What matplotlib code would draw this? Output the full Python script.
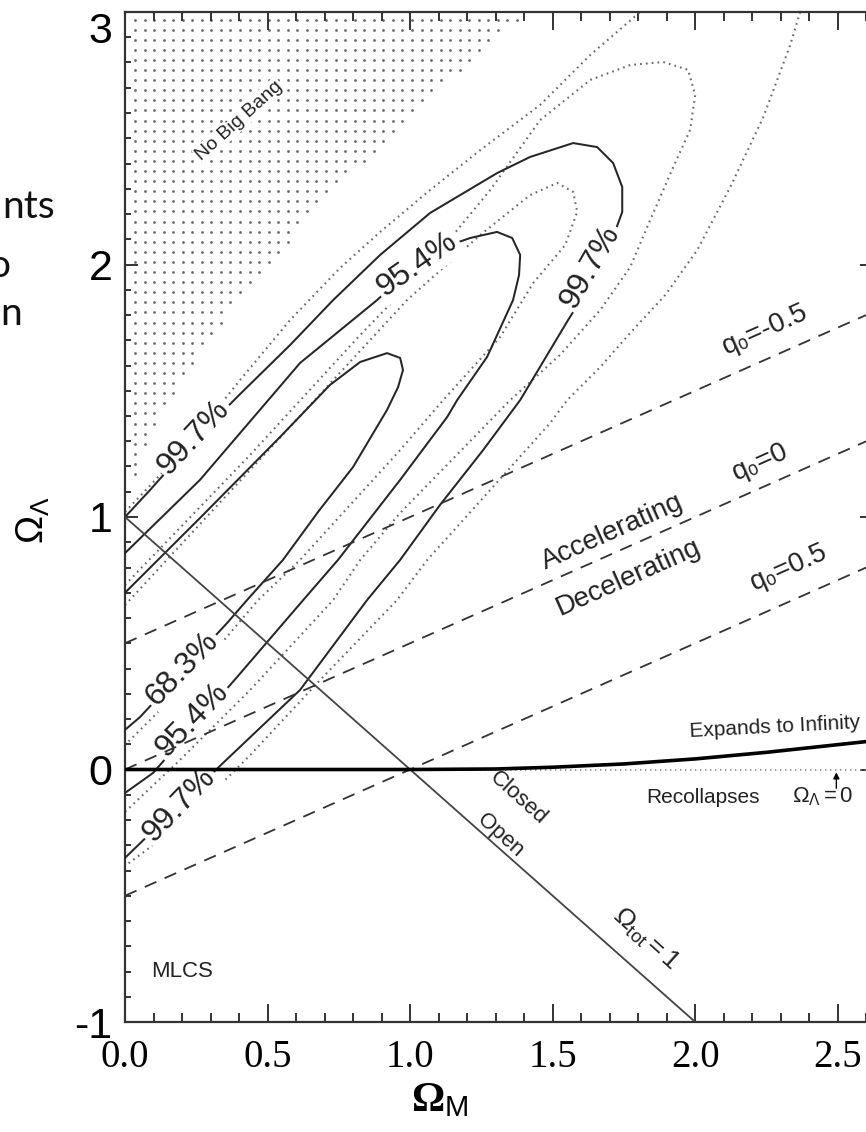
import numpy as np
import matplotlib.pyplot as plt
from matplotlib.ticker import MultipleLocator, FormatStrFormatter

plt.rcParams['font.family'] = ['Liberation Sans', 'DejaVu Sans']
plt.rcParams['mathtext.fontset'] = 'custom'
plt.rcParams['mathtext.rm'] = 'Liberation Serif'
plt.rcParams['mathtext.bf'] = 'Liberation Serif:bold'
plt.rcParams['mathtext.sf'] = 'Liberation Sans'
plt.rcParams['mathtext.it'] = 'Liberation Serif:italic'
plt.rcParams['axes.unicode_minus'] = False

# solid contours (MLCS)
s683_x = [0.0, 0.263, 0.544, 0.719, 0.825, 0.919, 0.965, 0.975, 0.958, 0.919, 0.80, 0.677, 0.554, 0.428, 0.358, 0.053, 0.0]
s683_y = [0.70, 0.996, 1.317, 1.523, 1.614, 1.649, 1.630, 1.582, 1.515, 1.424, 1.198, 1.020, 0.830, 0.671, 0.580, 0.208, 0.157]
s954_x = [0.0, 0.263, 0.614, 0.884, 1.070, 1.211, 1.305, 1.358, 1.386, 1.382, 1.361, 1.270, 1.165, 1.130, 0.965, 0.747, 0.625, 0.393, 0.098, 0.0]
s954_y = [0.857, 1.147, 1.610, 1.859, 2.050, 2.105, 2.129, 2.105, 2.038, 1.958, 1.859, 1.634, 1.463, 1.396, 1.147, 0.830, 0.671, 0.366, -0.014, -0.093]
s997_x = [0.0, 0.088, 0.228, 0.393, 0.579, 0.730, 0.895, 1.070, 1.305, 1.421, 1.572, 1.656, 1.712, 1.744, 1.744,
          1.695, 1.632, 1.554, 1.386, 1.256, 1.105, 0.965, 0.849, 0.614, 0.344, 0.0]
s997_y = [1.0, 1.107, 1.285, 1.475, 1.681, 1.859, 2.038, 2.204, 2.362, 2.426, 2.481, 2.465, 2.402, 2.307, 2.208,
          2.057, 1.919, 1.780, 1.463, 1.265, 1.048, 0.830, 0.671, 0.315, 0.026, -0.35]

# dotted contours (template fitting)
d683_x = [0.0, 0.263, 0.614, 0.989, 1.246, 1.421, 1.516, 1.572, 1.586, 1.544, 1.432, 1.316, 1.116, 0.965, 0.614, 0.467, 0.228, 0.0]
d683_y = [0.651, 0.972, 1.400, 1.859, 2.117, 2.275, 2.323, 2.287, 2.208, 2.077, 1.927, 1.713, 1.463, 1.265, 0.830, 0.671, 0.354, 0.097]
d954_x = [0.0, 0.439, 0.825, 1.070, 1.281, 1.456, 1.632, 1.772, 1.888, 1.975, 2.0, 1.982, 1.923, 1.842, 1.772,
          1.667, 1.526, 1.351, 0.965, 0.825, 0.730, 0.439, 0.193, 0.0]
d954_y = [0.731, 1.246, 1.721, 2.006, 2.295, 2.572, 2.731, 2.790, 2.802, 2.771, 2.671, 2.533, 2.386, 2.176, 1.990,
          1.820, 1.642, 1.463, 1.016, 0.830, 0.671, 0.315, 0.038, -0.168]
d997_left_x = [0.0, 0.123, 0.263, 0.404, 0.579, 0.754, 0.895, 1.070, 1.246, 1.456, 1.632, 1.807]
d997_left_y = [1.020, 1.166, 1.345, 1.543, 1.780, 1.986, 2.129, 2.295, 2.453, 2.632, 2.830, 3.0]
d997_right_x = [2.368, 2.333, 2.239, 2.123, 2.007, 1.895, 1.772, 1.667, 1.551, 1.491, 1.281, 1.060, 0.954, 0.684, 0.439, 0.193, 0.0]
d997_right_y = [3.0, 2.869, 2.584, 2.307, 2.057, 1.879, 1.729, 1.594, 1.463, 1.372, 1.107, 0.830, 0.671, 0.354, 0.057, -0.220, -0.382]

# No Big Bang boundary
bb_x = [0.0, 0.05, 0.1, 0.2, 0.3, 0.4, 0.5, 0.7, 0.9, 1.1, 1.3, 1.42]
bb_y = [1.0, 1.22, 1.35, 1.55, 1.70, 1.86, 2.0, 2.25, 2.48, 2.69, 2.9, 3.0]

# expands / recollapses boundary
exp_x = [0.0, 1.0, 1.3, 1.5, 1.75, 2.0, 2.25, 2.62]
exp_y = [0.0, 0.0, 0.002, 0.009, 0.022, 0.042, 0.068, 0.113]

# q0 lines and flat universe line
q0_x = [0.0, 2.62]
q0_y = {'-0.5': [0.5, 1.81], '0': [0.0, 1.31], '0.5': [-0.5, 0.81]}
flat_x = [0.0, 2.0]
flat_y = [1.0, -1.0]

# contour labels
cl_text = ['99.7%', '95.4%', '99.7%', '68.3%', '95.4%', '99.7%']
cl_x = [0.239, 1.025, 1.632, 0.20, 0.235, 0.189]
cl_y = [1.317, 2.0, 1.99, 0.40, 0.196, -0.14]
cl_rot = [47, 35, 60, 46, 46, 46]

fig = plt.figure(figsize=(8.66, 11.32), dpi=100)
ax = fig.add_axes([125 / 866, 110 / 1132, 747 / 866, 1010 / 1132])
ax.set_xlim(0, 2.62)
ax.set_ylim(-1, 3)

# stipple for the No Big Bang region
gx, gy = np.meshgrid(np.arange(0.035, 1.5, 0.0335), np.arange(2.97, 0.9, -0.04))
inside = gy > np.interp(gx, bb_x, bb_y)
ax.scatter(gx[inside], gy[inside], s=4, color='#6a6a6a', linewidths=0, zorder=1)

solid = dict(color='#262626', lw=1.45, zorder=3)
for xs, ys in [(s683_x, s683_y), (s954_x, s954_y), (s997_x, s997_y)]:
    ax.plot(xs, ys, **solid)

dots = dict(color='#666666', lw=1.5, ls=(0, (0.8, 2.0)), zorder=2)
for xs, ys in [(d683_x, d683_y), (d954_x, d954_y), (d997_left_x, d997_left_y), (d997_right_x, d997_right_y)]:
    ax.plot(xs, ys, **dots)

for key in q0_y:
    ax.plot(q0_x, q0_y[key], color='#333333', lw=1.3, dashes=(7, 5), zorder=6)

ax.plot(flat_x, flat_y, color='#444444', lw=1.3, zorder=3)
ax.plot(exp_x, exp_y, color='black', lw=2.6, zorder=6, solid_capstyle='butt')
ax.plot([1.0, 2.62], [0, 0], color='#888888', lw=1.2, ls=(0, (0.8, 2.2)), zorder=2)

box = dict(boxstyle='square,pad=0.08', fc='white', ec='none')
for t, lx, ly, r in zip(cl_text, cl_x, cl_y, cl_rot):
    ax.text(lx, ly, t, rotation=r, rotation_mode='anchor', ha='center', va='center',
            fontsize=23, color='#222222', bbox=box, zorder=5)

note = dict(ha='center', va='center', rotation_mode='anchor', color='#222222')
ax.text(0.40, 2.57, 'No Big Bang', rotation=42, fontsize=14, bbox=dict(boxstyle='square,pad=0.05', fc='white', ec='none'), zorder=4, **note)
ax.text(2.246, 1.741, 'q\u2080=-0.5', rotation=24, fontsize=20, **note)
ax.text(2.228, 1.218, 'q\u2080=0', rotation=24, fontsize=20, **note)
ax.text(2.33, 0.80, 'q\u2080=0.5', rotation=24, fontsize=20, **note)
ax.text(1.709, 0.941, 'Accelerating', rotation=24, fontsize=20, **note)
ax.text(1.765, 0.762, 'Decelerating', rotation=24, fontsize=20, **note)
ax.text(2.28, 0.168, 'Expands to Infinity', rotation=3, fontsize=15, **note)
ax.text(2.028, -0.109, 'Recollapses', fontsize=15, **note)
ax.text(2.446, -0.109, r'$\mathsf{\Omega_\Lambda{=}0}$', fontsize=16, **note)
ax.annotate('', xy=(2.495, 0.0), xytext=(2.495, -0.085),
            arrowprops=dict(arrowstyle='-|>', lw=1.0, color='black', mutation_scale=9))
ax.text(1.379, -0.113, 'Closed', rotation=-42, fontsize=16, **note)
ax.text(1.316, -0.259, 'Open', rotation=-42, fontsize=16, **note)
ax.text(1.825, -0.671, r'$\mathsf{\Omega_{tot}{=}1}$', rotation=-42, fontsize=19, **note)
ax.text(0.2, -0.80, 'MLCS', fontsize=16, **note)

ax.xaxis.set_major_locator(MultipleLocator(0.5))
ax.xaxis.set_minor_locator(MultipleLocator(0.1))
ax.yaxis.set_major_locator(MultipleLocator(1))
ax.yaxis.set_minor_locator(MultipleLocator(0.1))
ax.xaxis.set_major_formatter(FormatStrFormatter('%.1f'))
ax.tick_params(which='both', direction='in', top=True, right=True, width=1.4, color='#333333')
ax.tick_params(axis='x', which='major', length=13, pad=12, labelsize=28, labelfontfamily='Liberation Serif')
ax.tick_params(axis='x', which='minor', length=6.5)
ax.tick_params(axis='y', which='major', length=9, pad=9, labelsize=31)
ax.tick_params(axis='y', which='minor', length=4.5)
for sp in ax.spines.values():
    sp.set_linewidth(1.6)
    sp.set_color('#333333')

# the top "3" sits just below the frame, as in the original
fig.canvas.draw()
for lab in ax.get_yticklabels():
    if lab.get_text() == '3':
        lab.set_verticalalignment('top')

fig.text(440 / 866, 1 - 1100 / 1132, r'$\mathbf{\Omega}_{\mathsf{M}}$', fontsize=30, ha='center', va='center')
fig.text(33 / 866, 1 - 520 / 1132, r'$\mathsf{\Omega_\Lambda}$', fontsize=27, rotation=90, ha='center', va='center')

# bits of slide text cut off at the left edge
side = dict(va='baseline', fontsize=28, family=['Lato', 'DejaVu Sans'], color='#111111')
fig.text(2 / 866, 1 - 218 / 1132, 'nts', ha='left', **side)
fig.text(10 / 866, 1 - 277 / 1132, 'o', ha='right', **side)
fig.text(0 / 866, 1 - 325 / 1132, 'n', ha='left', **side)

fig.savefig('out.png', dpi=100, facecolor='white')
